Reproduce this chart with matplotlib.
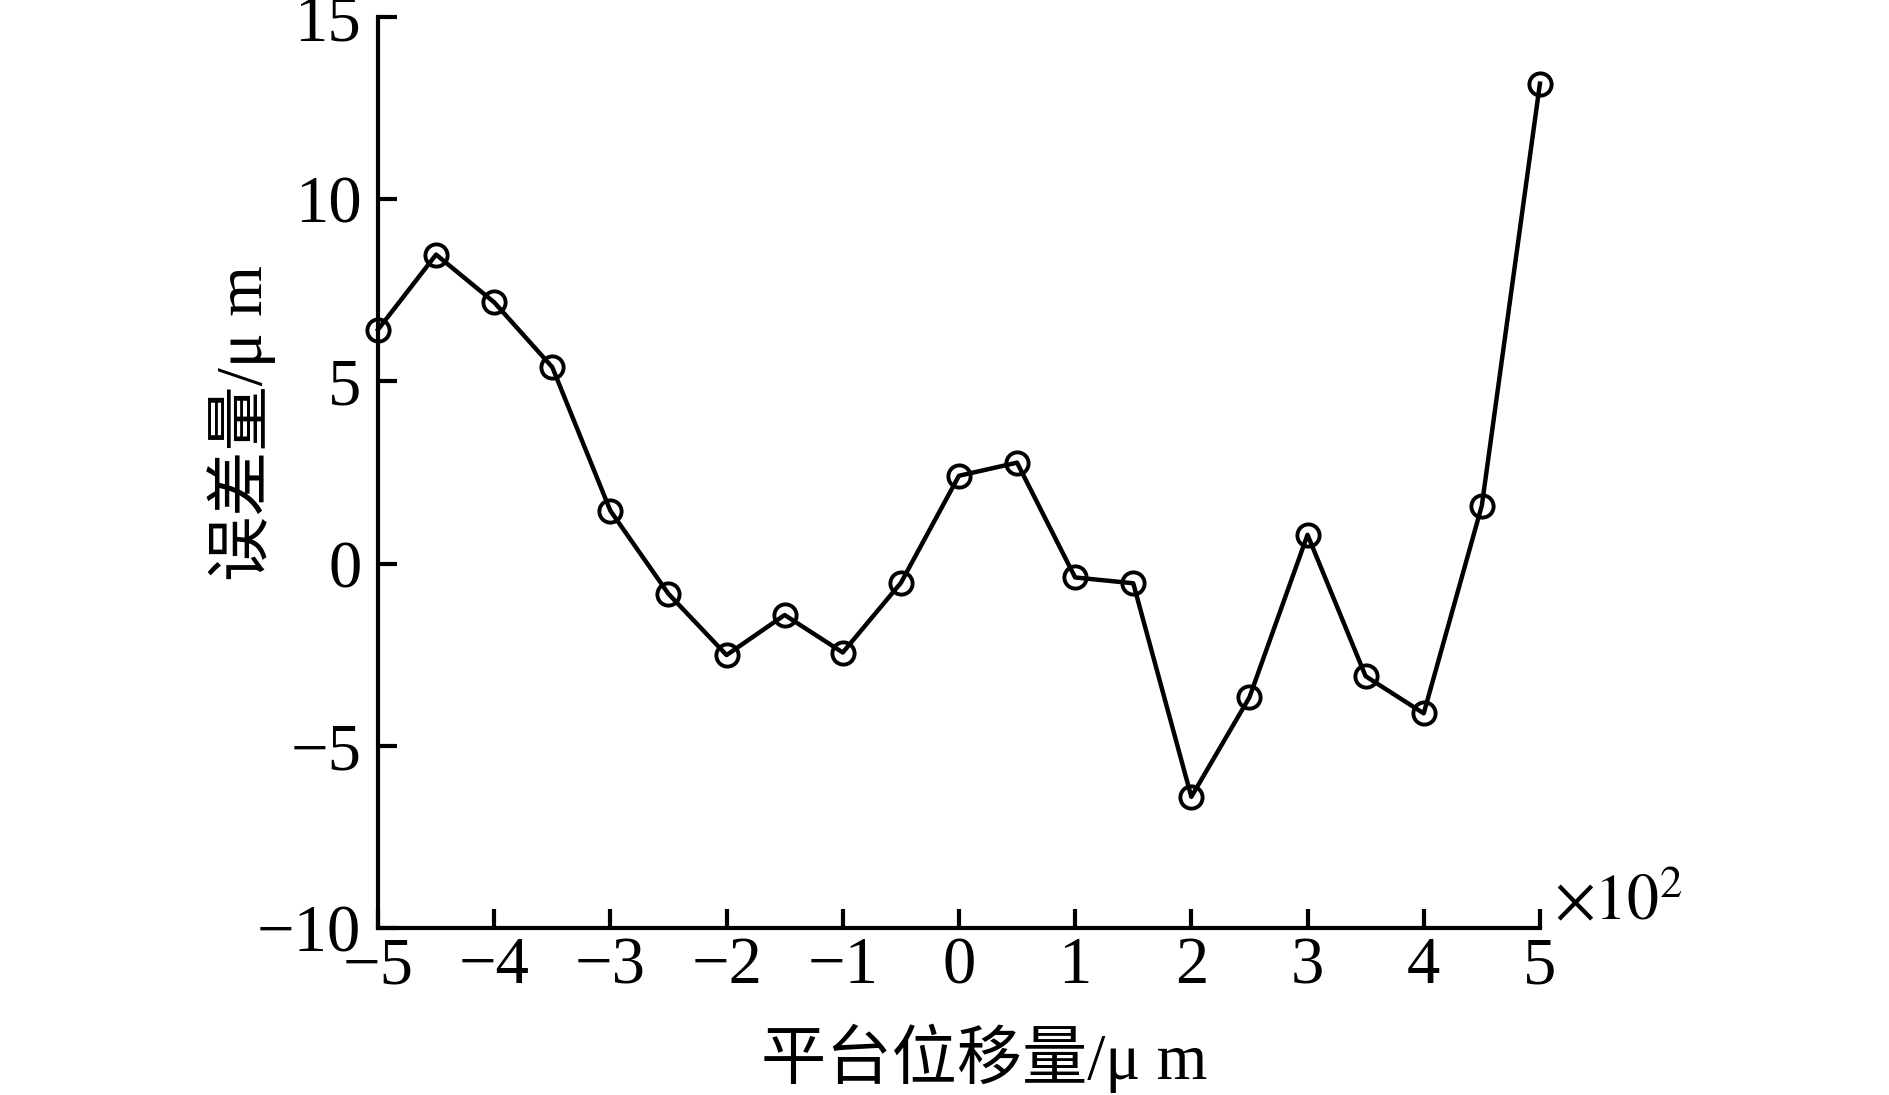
import matplotlib
matplotlib.use("Agg")
import matplotlib.pyplot as plt

# Data (x in units of 10^2 um, error in um)
displacement = [-5, -4.5, -4, -3.5, -3, -2.5, -2, -1.5, -1, -0.5, 0,
                0.5, 1, 1.5, 2, 2.5, 3, 3.5, 4, 4.5, 5]
error = [6.42, 8.48, 7.17, 5.39, 1.45, -0.83, -2.51, -1.41, -2.44, -0.53, 2.41,
         2.77, -0.38, -0.54, -6.40, -3.67, 0.79, -3.09, -4.11, 1.59, 13.17]
x_ticks = [-5, -4, -3, -2, -1, 0, 1, 2, 3, 4, 5]
y_ticks = [-10, -5, 0, 5, 10, 15]
x_label = "平台位移量/μ m"
y_label = "误差量/μ m"
x_scale_text = r"$\times10^{2}$"

fam = ["Liberation Serif", "Noto Sans CJK SC"]
plt.rcParams["font.family"] = fam
plt.rcParams["axes.unicode_minus"] = True
plt.rcParams["mathtext.fontset"] = "stix"

fig = plt.figure(figsize=(18.89, 10.95), dpi=100)
ax = fig.add_axes([0.2001, 0.1525, 0.6151, 0.8320])

ax.plot(displacement, error, color="black", linewidth=3.2,
        marker="o", markersize=16, markerfacecolor="none",
        markeredgecolor="black", markeredgewidth=2.8, clip_on=False)

ax.set_xlim(-5, 5)
ax.set_ylim(-10, 15)
ax.set_xticks(x_ticks)
ax.set_yticks(y_ticks)
ax.set_xticklabels([("−%d" % -v) if v < 0 else str(v) for v in x_ticks])
ax.set_yticklabels([("−%d" % -v) if v < 0 else str(v) for v in y_ticks])

for s in ["top", "right"]:
    ax.spines[s].set_visible(False)
for s in ["left", "bottom"]:
    ax.spines[s].set_linewidth(3)

ax.tick_params(axis="both", direction="in", length=14, width=3,
               labelsize=48, colors="black")
ax.tick_params(axis="x", pad=6)
ax.tick_params(axis="y", pad=12)

ax.set_xlabel(x_label, fontsize=47, family=fam, va="center")
ax.set_ylabel(y_label, fontsize=47, family=fam, va="center")
ax.xaxis.set_label_coords(0.522, -0.143)
ax.yaxis.set_label_coords(-0.117, 0.554)

ax.text(1.012, 0.025, x_scale_text, transform=ax.transAxes,
        fontsize=46, ha="left", va="center")

fig.savefig("out.png", dpi=100)
